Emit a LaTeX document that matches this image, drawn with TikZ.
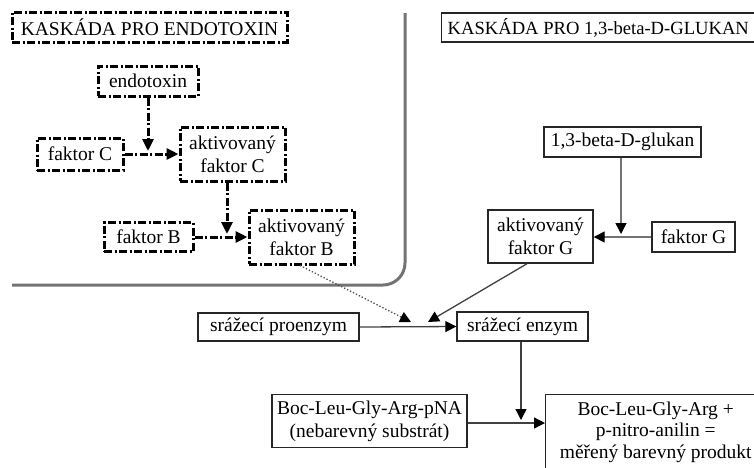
\documentclass[tikz,border=0pt]{standalone}
\usepackage{fontspec}
\setmainfont{Liberation Serif}
\usetikzlibrary{arrows.meta}
\tikzset{
  every node/.style={font=\fontsize{19.5}{23}\selectfont, inner sep=0pt, align=center, text=black},
  ddbox/.style={draw=black, line width=3pt, dash pattern=on 8pt off 2.5pt on 2pt off 2.5pt},
  sbox/.style={draw=black!85, line width=1.4pt},
  ddline/.style={draw=black, line width=3pt, dash pattern=on 8pt off 2.5pt on 2pt off 2.5pt},
  sline/.style={draw=black!75, line width=1.3pt},
  gline/.style={draw=black!55, line width=1.4pt},
  dline/.style={draw=black!70, line width=1.3pt, dotted},
  tip/.style={-{Triangle[length=12pt,width=11pt,black]}},
  stip/.style={-{Triangle[length=11pt,width=11pt,black]}},
}
\begin{document}
\begin{tikzpicture}[x=1pt, y=-1pt]
\useasboundingbox (0,0) rectangle (754,467);
\clip (0,0) rectangle (754,467);
% divider
\draw[black!55, line width=3pt, rounded corners=22pt] (405,13) -- (405,285) -- (12,285);
% endotoxin cascade
\node[ddbox, minimum width=275pt, minimum height=30pt] (t1) at (149.5,27) {KASKÁDA PRO ENDOTOXIN};
\node[ddbox, minimum width=100pt, minimum height=30pt] (endo) at (148,81) {endotoxin};
\node[ddbox, minimum width=86pt, minimum height=32pt] (fC) at (80,154) {faktor C};
\node[ddbox, minimum width=105pt, minimum height=54pt] (aC) at (232.5,154) {aktivovaný\\faktor C};
\node[ddbox, minimum width=89pt, minimum height=29pt] (fB) at (148.5,237) {faktor B};
\node[ddbox, minimum width=105pt, minimum height=54pt] (aB) at (301.5,237) {aktivovaný\\faktor B};
\coordinate (jC) at (148,151);
\coordinate (jB) at (227,234);
\draw[ddline, tip] (endo.south) -- (jC);
\draw[ddline, tip] (fC.east) -- (aC.west);
\draw[ddline, tip] (aC.south -| jB) -- (jB);
\draw[ddline, tip] (fB.east) -- (aB.west);
% glucan cascade
\node[sbox, anchor=west, minimum height=29pt, inner xsep=6pt, font=\fontsize{18.6}{22}\selectfont] (t2) at (441,27.5) {KASKÁDA PRO 1,3-beta-D-GLUKAN};
\node[sbox, minimum width=157pt, minimum height=30pt] (glu) at (622.5,142) {1,3-beta-D-glukan};
\node[sbox, minimum width=83pt, minimum height=30pt] (fG) at (693.5,237) {faktor G};
\node[sbox, minimum width=105pt, minimum height=53pt] (aG) at (540.5,236.5) {aktivovaný\\faktor G};
\coordinate (jG) at (621,234);
\draw[gline, stip] (glu.south -| jG) -- (jG);
\draw[gline, stip] (fG.west) -- (fG.west -| aG.east);
% common part
\node[sbox, minimum width=161pt, minimum height=28pt] (pro) at (278.5,327) {srážecí proenzym};
\node[sbox, minimum width=131pt, minimum height=29pt] (enz) at (522.5,326.5) {srážecí enzym};
\node[sbox, minimum width=195pt, minimum height=53pt] (sub) at (369.5,421) {Boc-Leu-Gly-Arg-pNA\\(nebarevný substrát)};
\node[sbox, anchor=north west, minimum width=220pt, minimum height=75pt, font=\fontsize{19.5}{21.5}\selectfont] (prod) at (545,394) {Boc-Leu-Gly-Arg +\\p-nitro-anilin =\\měřený barevný produkt};
\coordinate (j1) at (411,322);
\coordinate (j2) at (428,322);
\coordinate (jS) at (521,420);
\coordinate (jP) at (545,423);
\draw[dline, stip] ([xshift=-1.5pt]aB.south) -- (j1);
\draw[sline, stip] ([xshift=-13.5pt]aG.south) -- (j2);
\draw[sline, stip] (pro.east) -- (enz.west);
\draw[sline, stip] (enz.south -| jS) -- (jS);
\draw[sline, stip] (sub.east |- jP) -- (jP);
\end{tikzpicture}
\end{document}
